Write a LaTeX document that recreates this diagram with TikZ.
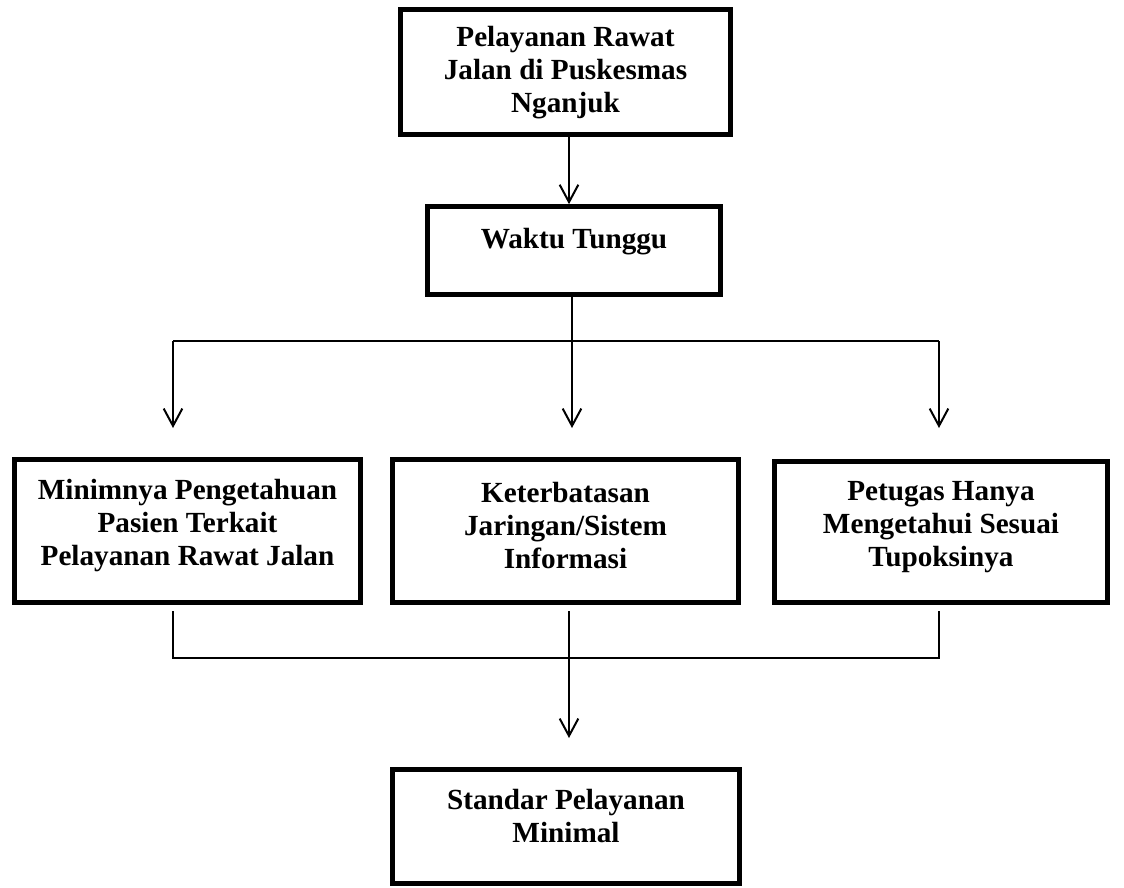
\documentclass[tikz,border=0pt]{standalone}
\usepackage{fontspec}
\setmainfont{Liberation Serif}
\usetikzlibrary{arrows.meta}
\begin{document}
\begin{tikzpicture}[x=0.75pt,y=-0.75pt,
  box/.style={draw, line width=3.5pt, rectangle, inner sep=0pt},
  txt/.style={font=\bfseries\fontsize{21.9}{24.75}\selectfont, align=center, inner sep=0pt},
  conn/.style={line width=1.5pt},
  arr/.style={conn, -{Straight Barb[length=13pt,width=14pt,line width=1.5pt]}}]
\useasboundingbox (0,0) rectangle (1124,888);
\fill[white] (0,0) rectangle (1124,888);

% boxes
\node[box, minimum width=247.5pt, minimum height=93.75pt] (A) at (565.5,72) {};
\node[box, minimum width=219.75pt, minimum height=66pt] (B) at (574,250.5) {};
\node[box, minimum width=259.5pt, minimum height=107.25pt] (C) at (187.5,531) {};
\node[box, minimum width=259.5pt, minimum height=107.25pt] (D) at (565.5,531) {};
\node[box, minimum width=249.75pt, minimum height=105.75pt] (E) at (941,532) {};
\node[box, minimum width=260.25pt, minimum height=85.5pt] (F) at (566,826.5) {};

% texts
\node[txt] (tA) at (565.5,73) {Pelayanan Rawat\\Jalan di Puskesmas\\Nganjuk};
\node[txt] (tB) at (574,242) {Waktu Tunggu};
\node[txt] (tC) at (187.5,526) {Minimnya Pengetahuan\\Pasien Terkait\\Pelayanan Rawat Jalan};
\node[txt] (tD) at (565.5,526) {Keterbatasan\\Jaringan/Sistem\\Informasi};
\node[txt] (tE) at (941,527) {Petugas Hanya\\Mengetahui Sesuai\\Tupoksinya};
\node[txt] (tF) at (566,816) {Standar Pelayanan\\Minimal};

% coordinates
\coordinate (a0) at (569,0);
\coordinate (hub) at (572,341);
\coordinate (l0) at (173,341);
\coordinate (r0) at (939,341);
\coordinate (lt) at (173,428);
\coordinate (mt) at (572,428);
\coordinate (rt) at (939,428);
\coordinate (lb0) at (173,611);
\coordinate (mb0) at (569,611);
\coordinate (rb0) at (939,611);
\coordinate (lb1) at (173,658);
\coordinate (rb1) at (939,658);
\coordinate (mbt) at (569,738);

% connectors
\draw[arr] (A.south -| a0) -- (B.north -| a0);
\draw[conn] (B.south -| hub) -- (hub);
\draw[conn] (l0) -- (r0);
\draw[arr] (l0) -- (lt);
\draw[arr] (hub) -- (mt);
\draw[arr] (r0) -- (rt);
\draw[conn] (lb0) -- (lb1) -- (rb1) -- (rb0);
\draw[arr] (mb0) -- (mbt);
\end{tikzpicture}
\end{document}
